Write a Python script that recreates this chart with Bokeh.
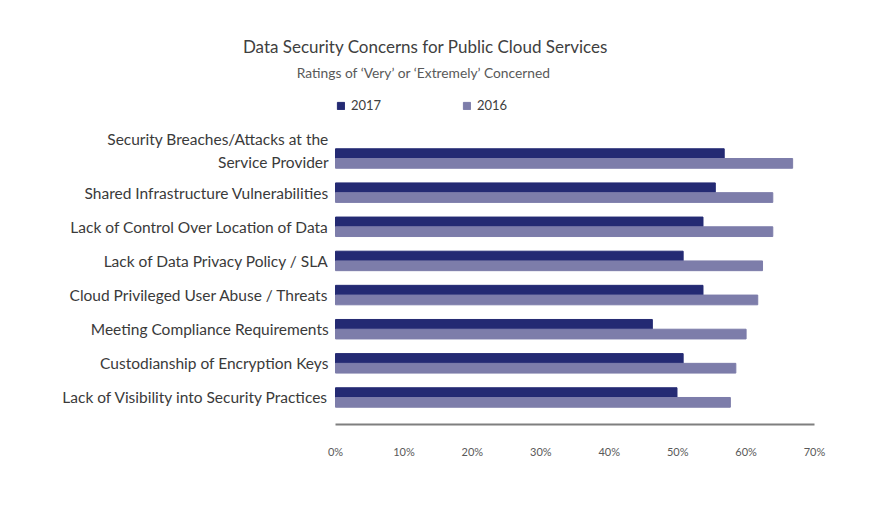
from bokeh.plotting import figure
from bokeh.models import Range1d, FixedTicker, Legend, LegendItem, ColumnDataSource, Label
from bokeh.core.properties import value
from bokeh.embed import file_html
from bokeh.resources import INLINE

categories = [
    "Security Breaches/Attacks at the\nService Provider",
    "Shared Infrastructure Vulnerabilities",
    "Lack of Control Over Location of Data",
    "Lack of Data Privacy Policy / SLA",
    "Cloud Privileged User Abuse / Threats",
    "Meeting Compliance Requirements",
    "Custodianship of Encryption Keys",
    "Lack of Visibility into Security Practices",
]
values_2017 = [56.8, 55.5, 53.7, 50.8, 53.7, 46.3, 50.8, 49.9]
values_2016 = [66.8, 63.9, 63.9, 62.4, 61.7, 60.0, 58.5, 57.7]
x_ticks = [0, 10, 20, 30, 40, 50, 60, 70]
title_text = "Data Security Concerns for Public Cloud Services"
subtitle_text = "Ratings of \u2018Very\u2019 or \u2018Extremely\u2019 Concerned"

FONT = "Lato"
C17 = "#242a73"
C16 = "#7d7daa"

n = len(categories)
ypos = [n - i for i in range(n)]
bar_h = 0.285

src = ColumnDataSource(dict(
    y=ypos,
    y17=[y + bar_h / 2 for y in ypos],
    y16=[y - bar_h / 2 for y in ypos],
    v17=values_2017,
    v16=values_2016,
    cat=categories,
    lx=[-1.0] * n,
    yoff=[-8 if "\n" in c else 0 for c in categories],
))

p = figure(width=854, height=492, output_backend="svg", toolbar_location=None,
           x_range=Range1d(-48.955, 75.84), y_range=Range1d(0.209, 12.628),
           y_axis_location=None,
           min_border_left=0, min_border_right=0, min_border_top=0, min_border_bottom=68)
p.outline_line_color = None
p.grid.visible = False
p.background_fill_color = "white"
p.border_fill_color = "white"

r17 = p.hbar(y="y17", right="v17", left=0, height=bar_h, source=src, color=C17)
r16 = p.hbar(y="y16", right="v16", left=0, height=bar_h, source=src, color=C16)

# category labels
p.text(x="lx", y="y", text="cat", source=src, y_offset="yoff",
       text_align="right", text_baseline="middle",
       text_font=value(FONT), text_font_size="15.5px", text_color="#3a3a3a",
       text_line_height=1.25)

# x axis
p.xaxis.bounds = (0, 70)
p.xaxis.ticker = FixedTicker(ticks=x_ticks)
p.xaxis.major_label_overrides = {t: f"{t}%" for t in x_ticks}
p.xaxis.axis_line_color = "#7f7f7f"
p.xaxis.axis_line_width = 2
p.xaxis.major_tick_line_color = None
p.xaxis.minor_tick_line_color = None
p.xaxis.major_label_standoff = 14
p.xaxis.major_label_text_font = FONT
p.xaxis.major_label_text_font_size = "11px"
p.xaxis.major_label_text_color = "#595959"

legend = Legend(items=[LegendItem(label="2017", renderers=[r17]),
                       LegendItem(label="2016", renderers=[r16])],
                location=(336, 311), orientation="horizontal",
                margin=0, padding=0, spacing=11,
                glyph_width=9, glyph_height=9, label_standoff=6,
                label_width=100, label_height=13,
                label_text_font=FONT, label_text_font_size="13px",
                label_text_color="#404040",
                border_line_color=None, background_fill_alpha=0)
p.add_layout(legend)

p.add_layout(Label(x=13.15, y=11.281, text=title_text,
                   text_font=FONT, text_font_size="17px", text_color="#404040",
                   text_align="center", text_baseline="middle"))
p.add_layout(Label(x=12.9, y=10.519, text=subtitle_text,
                   text_font=FONT, text_font_size="13.8px", text_color="#595959",
                   text_align="center", text_baseline="middle"))

open("out.html", "w").write(file_html(p, INLINE))
